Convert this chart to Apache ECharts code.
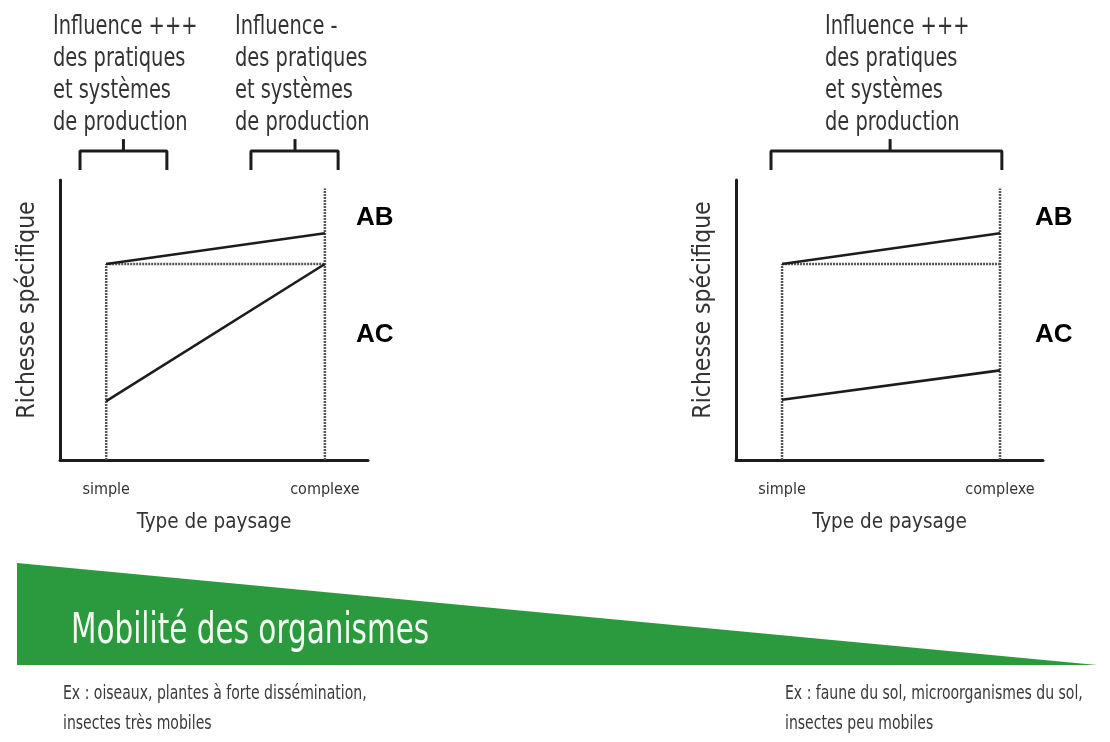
<!DOCTYPE html>
<html>
<head>
<meta charset="utf-8">
<script src="https://cdn.jsdelivr.net/npm/echarts@6/dist/echarts.min.js"></script>
<style>
  html, body { margin: 0; padding: 0; background: #fff; }
  #chart { width: 1110px; height: 742px; }
</style>
</head>
<body>
<div id="chart"></div>
<script>
  // landscape positions on the x axis (0..10)
  const landscapeX = [1.5, 8.6]
  const landscapeLabels = ['simple', 'complexe']

  // richesse spécifique (0..10)
  const baseline = 7
  const complexTop = 9.7
  const abLeft = [7, 8.1]
  const acLeft = [2.1, 7]
  const abRight = [7, 8.1]
  const acRight = [2.15, 3.2]

  // brackets above the charts: [start, middle, end] in x units
  const bracketsLeft = [[0.65, 2.06, 3.47], [6.2, 7.63, 9.03]]
  const bracketsRight = [[1.14, 5.02, 8.66]]
  const bracketY = [10.36, 11.04, 11.46]

  // mobilité des organismes, from high to low
  const mobility = [1, 0]

  const FONT = '"DejaVu Sans Condensed", "Liberation Sans Narrow", sans-serif'
  const ink = '#1c1c1c'
  const textGrey = '#333'

  const chart = echarts.init(document.getElementById('chart'))

  const makeX = (gridIndex) => ({
    type: 'value',
    gridIndex,
    min: 0,
    max: 10,
    name: 'Type de paysage',
    nameLocation: 'middle',
    nameGap: 52,
    nameTextStyle: { fontFamily: FONT, fontSize: 20.5, color: textGrey },
    axisLine: { show: true, onZero: false, lineStyle: { color: ink, width: 3 } },
    axisTick: { show: false },
    splitLine: { show: false },
    axisLabel: {
      customValues: landscapeX,
      formatter: (v) => landscapeLabels[landscapeX.indexOf(v)] || '',
      fontFamily: FONT,
      fontSize: 16,
      color: textGrey,
      margin: 22
    }
  })

  const makeY = (gridIndex) => ({
    type: 'value',
    gridIndex,
    min: 0,
    max: 10,
    name: 'Richesse spécifique',
    nameLocation: 'middle',
    nameRotate: 90,
    nameGap: 20,
    nameTextStyle: { fontFamily: FONT, fontSize: 24.5, color: textGrey, padding: [0, 0, 0, 20] },
    axisLine: { show: true, lineStyle: { color: ink, width: 3 } },
    axisTick: { show: false },
    axisLabel: { show: false },
    splitLine: { show: false }
  })

  const solid = (idx, ys) => ({
    type: 'line',
    xAxisIndex: idx,
    yAxisIndex: idx,
    data: landscapeX.map((x, i) => [x, ys[i]]),
    symbol: 'none',
    lineStyle: { color: ink, width: 2.6 },
    z: 3
  })

  const dotted = (idx, pts) => ({
    type: 'line',
    xAxisIndex: idx,
    yAxisIndex: idx,
    data: pts,
    symbol: 'none',
    lineStyle: { color: '#555', width: 2.5, type: [2, 1] },
    z: 2
  })

  const chartSeries = (idx, ab, ac) => [
    dotted(idx, [[landscapeX[0], 0], [landscapeX[0], baseline]]),
    dotted(idx, [[landscapeX[1], 0], [landscapeX[1], complexTop]]),
    dotted(idx, [[landscapeX[0], baseline], [landscapeX[1], baseline]]),
    solid(idx, ab),
    solid(idx, ac)
  ]

  const bracketSeries = (idx, list) => {
    const out = []
    list.forEach(b => {
      out.push({
        type: 'line',
        xAxisIndex: idx,
        yAxisIndex: idx,
        clip: false,
        symbol: 'none',
        data: [[b[0], bracketY[0]], [b[0], bracketY[1]], [b[2], bracketY[1]], [b[2], bracketY[0]]],
        lineStyle: { color: ink, width: 3 }
      })
      out.push({
        type: 'line',
        xAxisIndex: idx,
        yAxisIndex: idx,
        clip: false,
        symbol: 'none',
        data: [[b[1], bracketY[1]], [b[1], bracketY[2]]],
        lineStyle: { color: ink, width: 3 }
      })
    })
    return out
  }

  const note = (x, y, text) => ({
    type: 'text',
    x, y,
    scaleX: 0.83,
    style: {
      text,
      font: '26px ' + FONT,
      lineHeight: 32,
      fill: textGrey
    }
  })

  const bold = (x, y, text) => ({
    type: 'text',
    x, y,
    style: {
      text,
      font: 'bold 26px "Liberation Sans", Arial, sans-serif',
      fill: '#000',
      verticalAlign: 'middle'
    }
  })

  const example = (x, text) => ({
    type: 'text',
    x, y: 679,
    scaleX: 0.78,
    style: {
      text,
      font: '20px ' + FONT,
      lineHeight: 30,
      fill: '#3a3a3a'
    }
  })

  const option = {
    animation: false,
    backgroundColor: '#fff',
    grid: [
      { left: 60, top: 180, width: 308, height: 280 },
      { left: 736, top: 180, width: 307, height: 280 },
      { left: 17, top: 563, right: 13, height: 102 }
    ],
    xAxis: [
      makeX(0),
      makeX(1),
      { type: 'value', gridIndex: 2, min: 0, max: 1, show: false }
    ],
    yAxis: [
      makeY(0),
      makeY(1),
      { type: 'value', gridIndex: 2, min: 0, max: 1, show: false }
    ],
    series: [
      ...chartSeries(0, abLeft, acLeft),
      ...chartSeries(1, abRight, acRight),
      ...bracketSeries(0, bracketsLeft),
      ...bracketSeries(1, bracketsRight),
      {
        type: 'line',
        xAxisIndex: 2,
        yAxisIndex: 2,
        data: mobility.map((v, i) => [i, v]),
        symbol: 'none',
        lineStyle: { width: 0 },
        areaStyle: { color: '#2b9a3e', opacity: 1 }
      }
    ],
    graphic: [
      note(53, 11, 'Influence +++\ndes pratiques\net systèmes\nde production'),
      note(235, 11, 'Influence -\ndes pratiques\net systèmes\nde production'),
      note(825, 11, 'Influence +++\ndes pratiques\net systèmes\nde production'),
      bold(356, 218, 'AB'),
      bold(356, 335, 'AC'),
      bold(1035, 218, 'AB'),
      bold(1035, 335, 'AC'),
      {
        type: 'text',
        x: 71, y: 632,
        z: 10,
        scaleX: 0.78,
        style: {
          text: 'Mobilité des organismes',
          font: '42px ' + FONT,
          fill: '#f2faf2',
          verticalAlign: 'middle'
        }
      },
      example(63, 'Ex : oiseaux, plantes à forte dissémination,\ninsectes très mobiles'),
      example(785, 'Ex : faune du sol, microorganismes du sol,\ninsectes peu mobiles')
    ]
  }

  chart.setOption(option)
</script>
</body>
</html>
